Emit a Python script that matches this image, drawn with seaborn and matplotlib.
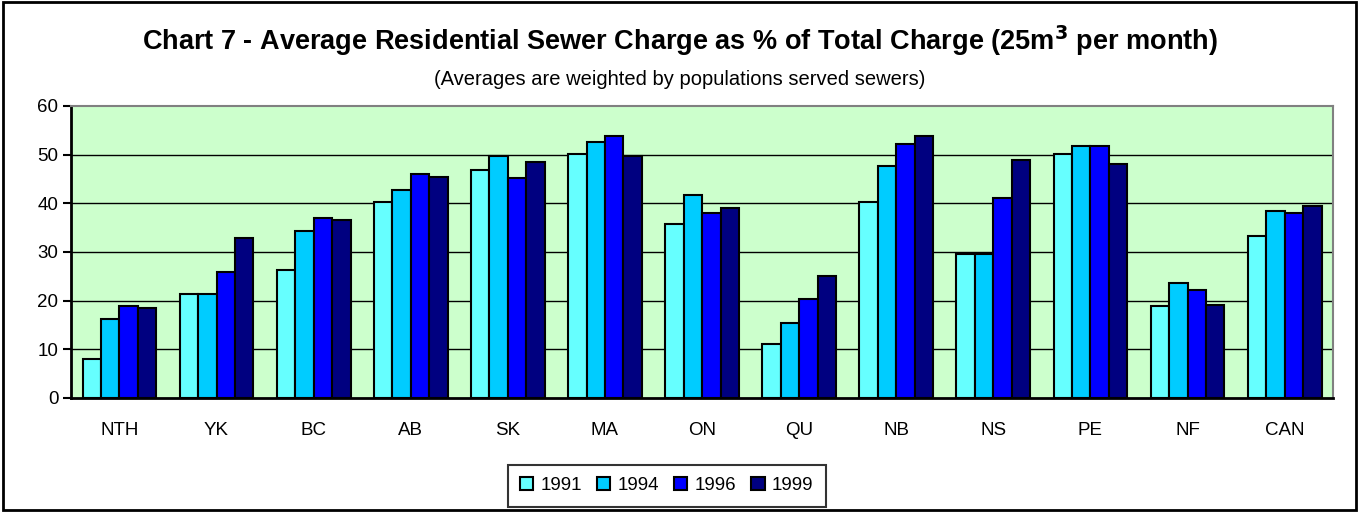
import matplotlib
matplotlib.use("Agg")
import matplotlib.pyplot as plt
import seaborn as sns
import pandas as pd
from matplotlib.patches import Rectangle

regions = ["NTH", "YK", "BC", "AB", "SK", "MA", "ON", "QU", "NB", "NS", "PE", "NF", "CAN"]
years = ["1991", "1994", "1996", "1999"]
v1991 = [8.1, 21.3, 26.2, 40.2, 46.8, 50.1, 35.7, 11.0, 40.2, 29.5, 50.1, 18.8, 33.2]
v1994 = [16.3, 21.3, 34.4, 42.7, 49.7, 52.5, 41.8, 15.5, 47.6, 29.5, 51.7, 23.7, 38.5]
v1996 = [18.8, 25.8, 36.9, 46.0, 45.1, 53.8, 38.1, 20.4, 52.1, 41.0, 51.7, 22.1, 38.1]
v1999 = [18.4, 32.8, 36.5, 45.5, 48.4, 49.7, 39.0, 25.0, 53.8, 48.8, 48.0, 19.2, 39.4]
colors = ["#66FFFF", "#00CCFF", "#0000FF", "#000080"]

rows = []
for year, vals in zip(years, [v1991, v1994, v1996, v1999]):
    for r, v in zip(regions, vals):
        rows.append({"region": r, "year": year, "value": v})
df = pd.DataFrame(rows)

sns.set_style("white", {"text.color": "black", "xtick.color": "black",
                        "ytick.color": "black", "axes.labelcolor": "black"})
plt.rcParams["font.family"] = ["Liberation Sans", "DejaVu Sans"]

fig = plt.figure(figsize=(13.59, 5.12), dpi=100)
ax = fig.add_axes([0.0522, 0.2227, 0.9288, 0.5703])
ax.set_facecolor("#CCFFCC")

sns.barplot(data=df, x="region", y="value", hue="year", palette=colors,
            width=0.76, edgecolor="black", linewidth=1.5, saturation=1,
            ax=ax, zorder=3)

ax.set_ylim(0, 60)
ax.set_yticks(range(0, 61, 10))
for y in range(10, 60, 10):
    ax.axhline(y, color="black", lw=1, zorder=1)
ax.set_xlabel("")
ax.set_ylabel("")
ax.tick_params(axis="y", labelsize=13.5, length=6, width=1.5, direction="out", left=True, pad=3)
ax.tick_params(axis="x", labelsize=13.5, length=0, pad=17)
for s in ["left", "bottom"]:
    ax.spines[s].set_color("black")
    ax.spines[s].set_linewidth(2)
for s in ["top", "right"]:
    ax.spines[s].set_color("#808080")
    ax.spines[s].set_linewidth(1.5)

leg = ax.legend(loc="upper center", bbox_to_anchor=(0.472, -0.198), ncol=4,
                fontsize=13.5, frameon=True, fancybox=False, handlelength=0.7,
                handleheight=0.7, handletextpad=0.4, columnspacing=0.8,
                borderpad=0.65, edgecolor="black")
leg.get_frame().set_linewidth(1.5)

fig.text(0.5, 0.92, "Chart 7 - Average Residential Sewer Charge as % of Total Charge (25m$^{\\mathbf{3}}$ per month)",
         ha="center", va="center", fontsize=19.5, fontweight="bold", color="black")
fig.text(0.5, 0.844, "(Averages are weighted by populations served sewers)",
         ha="center", va="center", fontsize=14.5, color="black")

fig.patches.append(Rectangle((0.002, 0.003), 0.996, 0.994, transform=fig.transFigure,
                             fill=False, edgecolor="black", lw=2))

fig.savefig("out.png", dpi=100)
